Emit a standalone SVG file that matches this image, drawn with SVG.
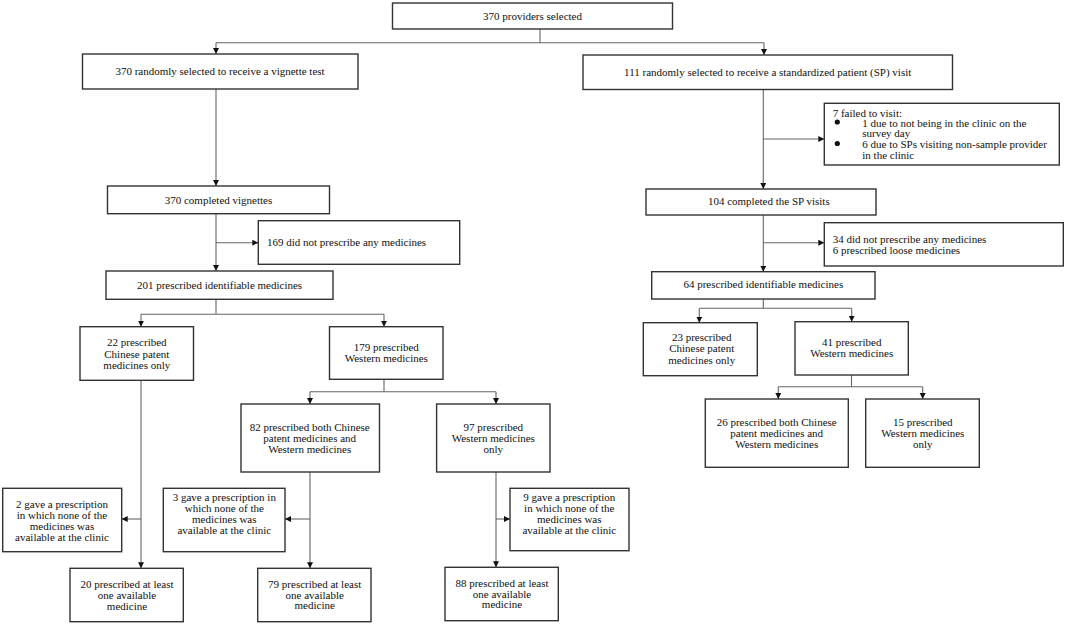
<svg xmlns="http://www.w3.org/2000/svg" width="1065" height="624" viewBox="0 0 1065 624">
<style>
  .box { fill: #ffffff; stroke: #333333; stroke-width: 1.4; }
  .t { font-family: "Liberation Serif", "Times New Roman", serif; font-size: 11px; fill: #111111; }
  .c { text-anchor: middle; }
  .conn { fill: none; stroke: #666666; stroke-width: 1.1; }
  .arr { marker-end: url(#ah); }
</style>
<defs>
  <marker id="ah" markerUnits="userSpaceOnUse" markerWidth="7" markerHeight="7" refX="6" refY="3" orient="auto">
    <path d="M0,0 L6,3 L0,6 z" fill="#111111"/>
  </marker>
</defs>
<rect width="1065" height="624" fill="#ffffff"/>

<g id="connectors">
  <path class="conn" d="M540,29 V42.7 M216,42.7 H764"/>
  <path class="conn arr" d="M216,42.7 V54"/>
  <path class="conn arr" d="M764,42.7 V55"/>
  <path class="conn arr" d="M216,89 V186"/>
  <path class="conn arr" d="M216,213.7 V271"/>
  <path class="conn arr" d="M216,242.7 H258.3"/>
  <path class="conn" d="M216,299.3 V314.3 M141,314.3 H384"/>
  <path class="conn arr" d="M141,314.3 V326.7"/>
  <path class="conn arr" d="M384,314.3 V326.7"/>
  <path class="conn" d="M384,379.3 V391.7 M310,391.7 H496"/>
  <path class="conn arr" d="M310,391.7 V404"/>
  <path class="conn arr" d="M496,391.7 V404"/>
  <path class="conn arr" d="M141,380.3 V568.3"/>
  <path class="conn arr" d="M141,519 H121.7"/>
  <path class="conn arr" d="M310,472 V568.3"/>
  <path class="conn arr" d="M310,519 H285"/>
  <path class="conn arr" d="M496,472 V567.3"/>
  <path class="conn arr" d="M496,519 H510"/>
  <path class="conn arr" d="M763.3,89.5 V189"/>
  <path class="conn arr" d="M763.3,139 H824.3"/>
  <path class="conn arr" d="M763.3,215 V271.7"/>
  <path class="conn arr" d="M763.3,242.7 H824.3"/>
  <path class="conn" d="M763.3,299 V308.3 M699.3,308.3 H851.7"/>
  <path class="conn arr" d="M699.3,308.3 V322.7"/>
  <path class="conn arr" d="M851.7,308.3 V321.7"/>
  <path class="conn" d="M851.5,375 V386.7 M778.3,386.7 H922.7"/>
  <path class="conn arr" d="M778.3,386.7 V399"/>
  <path class="conn arr" d="M922.7,386.7 V399"/>
</g>

<g id="n_top">
  <rect class="box" x="392.5" y="3" width="280" height="26"/>
  <text class="t c" x="532.5" y="19.5">370 providers selected</text>
</g>
<g id="n_vignette">
  <rect class="box" x="82.5" y="54" width="275.5" height="35"/>
  <text class="t c" x="220" y="74.5">370 randomly selected to receive a vignette test</text>
</g>
<g id="n_sp">
  <rect class="box" x="583" y="55" width="369.5" height="34.5"/>
  <text class="t c" x="767.7" y="76">111 randomly selected to receive a standardized patient (SP) visit</text>
</g>
<g id="n_failed">
  <rect class="box" x="824.3" y="103.3" width="235" height="61.7"/>
  <text class="t" x="832.7" y="116.5">7 failed to visit:</text>
  <circle cx="837.3" cy="122" r="2.6" fill="#111111"/>
  <text class="t" x="862.3" y="126.5">1 due to not being in the clinic on the</text>
  <text class="t" x="862.3" y="137">survey day</text>
  <circle cx="837.3" cy="143.5" r="2.6" fill="#111111"/>
  <text class="t" x="862.3" y="148">6 due to SPs visiting non-sample provider</text>
  <text class="t" x="862.3" y="158.5">in the clinic</text>
</g>
<g id="n_compvig">
  <rect class="box" x="107.5" y="186" width="222" height="27.7"/>
  <text class="t c" x="218.5" y="204">370 completed vignettes</text>
</g>
<g id="n_compsp">
  <rect class="box" x="646" y="189" width="230" height="26"/>
  <text class="t c" x="768.8" y="205">104 completed the SP visits</text>
</g>
<g id="n_169">
  <rect class="box" x="258.3" y="220.7" width="201.4" height="43.6"/>
  <text class="t" x="267" y="245.7">169 did not prescribe any medicines</text>
</g>
<g id="n_34">
  <rect class="box" x="824.3" y="222.7" width="239" height="43.3"/>
  <text class="t" x="832.7" y="243">34 did not prescribe any medicines</text>
  <text class="t" x="832.7" y="254">6 prescribed loose medicines</text>
</g>
<g id="n_201">
  <rect class="box" x="106" y="271" width="227" height="28.3"/>
  <text class="t c" x="219.5" y="289">201 prescribed identifiable medicines</text>
</g>
<g id="n_64">
  <rect class="box" x="651.7" y="271.7" width="223.3" height="27.3"/>
  <text class="t c" x="763.3" y="288.3">64 prescribed identifiable medicines</text>
</g>
<g id="n_22">
  <rect class="box" x="80" y="326.7" width="113.5" height="53.6"/>
  <text class="t c" x="136.8" y="346.3">22 prescribed</text>
  <text class="t c" x="136.8" y="357.6">Chinese patent</text>
  <text class="t c" x="136.8" y="369">medicines only</text>
</g>
<g id="n_179">
  <rect class="box" x="329.5" y="326.7" width="113.5" height="52.6"/>
  <text class="t c" x="386.3" y="350.7">179 prescribed</text>
  <text class="t c" x="386.3" y="361.7">Western medicines</text>
</g>
<g id="n_23">
  <rect class="box" x="643.3" y="322.7" width="114" height="53"/>
  <text class="t c" x="701.7" y="340.5">23 prescribed</text>
  <text class="t c" x="701.7" y="352">Chinese patent</text>
  <text class="t c" x="701.7" y="363.5">medicines only</text>
</g>
<g id="n_41">
  <rect class="box" x="795" y="321.7" width="113.3" height="53.3"/>
  <text class="t c" x="851.7" y="346.3">41 prescribed</text>
  <text class="t c" x="851.7" y="357.3">Western medicines</text>
</g>
<g id="n_26">
  <rect class="box" x="705.3" y="399" width="143" height="68.3"/>
  <text class="t c" x="776.7" y="425.7">26 prescribed both Chinese</text>
  <text class="t c" x="776.7" y="436.8">patent medicines and</text>
  <text class="t c" x="776.7" y="448">Western medicines</text>
</g>
<g id="n_15">
  <rect class="box" x="865.7" y="399" width="113.6" height="68.3"/>
  <text class="t c" x="922.8" y="425.7">15 prescribed</text>
  <text class="t c" x="922.8" y="436.8">Western medicines</text>
  <text class="t c" x="922.8" y="448">only</text>
</g>
<g id="n_82">
  <rect class="box" x="241" y="404" width="138.5" height="68"/>
  <text class="t c" x="309.7" y="430.7">82 prescribed both Chinese</text>
  <text class="t c" x="309.7" y="441.8">patent medicines and</text>
  <text class="t c" x="309.7" y="453">Western medicines</text>
</g>
<g id="n_97">
  <rect class="box" x="436.6" y="404" width="113.4" height="68"/>
  <text class="t c" x="493.3" y="430.7">97 prescribed</text>
  <text class="t c" x="493.3" y="441.8">Western medicines</text>
  <text class="t c" x="493.3" y="453">only</text>
</g>
<g id="n_2">
  <rect class="box" x="2.7" y="488.3" width="119" height="63.4"/>
  <text class="t c" x="62" y="507.5">2 gave a prescription</text>
  <text class="t c" x="62" y="518.5">in which none of the</text>
  <text class="t c" x="62" y="529.5">medicines was</text>
  <text class="t c" x="62" y="540.5">available at the clinic</text>
</g>
<g id="n_3">
  <rect class="box" x="163.3" y="488.3" width="121.7" height="63.4"/>
  <text class="t c" x="224.3" y="500.7">3 gave a prescription in</text>
  <text class="t c" x="224.3" y="511.8">which none of the</text>
  <text class="t c" x="224.3" y="523">medicines was</text>
  <text class="t c" x="224.3" y="534">available at the clinic</text>
</g>
<g id="n_9">
  <rect class="box" x="510" y="488.3" width="119" height="62.4"/>
  <text class="t c" x="569.3" y="500.7">9 gave a prescription</text>
  <text class="t c" x="569.3" y="511.8">in which none of the</text>
  <text class="t c" x="569.3" y="523">medicines was</text>
  <text class="t c" x="569.3" y="534">available at the clinic</text>
</g>
<g id="n_20">
  <rect class="box" x="70" y="568.3" width="113.3" height="53.4"/>
  <text class="t c" x="127" y="588">20 prescribed at least</text>
  <text class="t c" x="127" y="599">one available</text>
  <text class="t c" x="127" y="609.8">medicine</text>
</g>
<g id="n_79">
  <rect class="box" x="257.7" y="568.3" width="113.3" height="53.4"/>
  <text class="t c" x="314.7" y="587.5">79 prescribed at least</text>
  <text class="t c" x="314.7" y="598.5">one available</text>
  <text class="t c" x="314.7" y="609.3">medicine</text>
</g>
<g id="n_88">
  <rect class="box" x="445" y="567.3" width="113.3" height="53.4"/>
  <text class="t c" x="502" y="586.5">88 prescribed at least</text>
  <text class="t c" x="502" y="597.5">one available</text>
  <text class="t c" x="502" y="608.3">medicine</text>
</g>
</svg>
